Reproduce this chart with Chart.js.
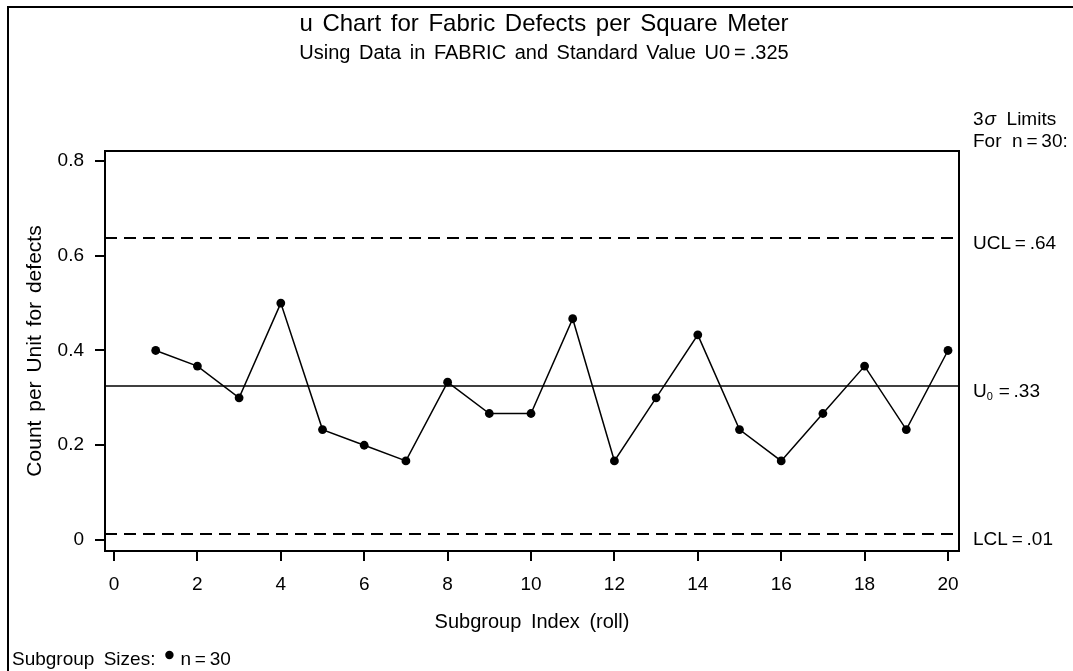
<!DOCTYPE html>
<html><head><meta charset="utf-8">
<style>html,body{margin:0;padding:0;background:#fff}#wrap{width:1073px;height:671px;position:relative}canvas{display:block}</style>
<script src="https://cdn.jsdelivr.net/npm/chart.js@4/dist/chart.umd.min.js"></script>
</head><body><div id="wrap"><canvas id="c" width="1073" height="671"></canvas></div>
<script>
// ---- data ----
const subgroups = [1,2,3,4,5,6,7,8,9,10,11,12,13,14,15,16,17,18,19,20];
const defectsPerUnit = [0.400,0.367,0.300,0.500,0.233,0.200,0.167,0.333,0.267,0.267,0.467,0.167,0.300,0.433,0.233,0.167,0.267,0.367,0.233,0.400];
const centerLine = 0.325;
const upperLimit = 0.6373;
const lowerLimit = 0.0127;
const xTicks = [0,2,4,6,8,10,12,14,16,18,20];
const yTicks = [0,0.2,0.4,0.6,0.8];
const xRange = [-0.216, 20.264];
const yRange = [-0.0232, 0.821];
const titleText = 'u Chart for Fabric Defects per Square Meter';
const subtitleText = 'Using Data in FABRIC and Standard Value U0\u2009=\u2009.325';
const xTitle = 'Subgroup Index (roll)';
const yTitle = 'Count per Unit for defects';

const FONT = '"Liberation Sans", Arial, Helvetica, sans-serif';
const f = (s, style) => (style ? style + ' ' : '') + s + 'px ' + FONT;

const points = subgroups.map((x, i) => ({x, y: defectsPerUnit[i]}));
const hline = v => [{x: xRange[0], y: v}, {x: xRange[1], y: v}];

function txt(ctx, s, x, y, ws) {
  ctx.wordSpacing = (ws || 0) + 'px';
  ctx.fillText(s, x, y);
  ctx.wordSpacing = '0px';
}

const decor = {
  id: 'decor',
  afterDraw(chart) {
    const ctx = chart.ctx, a = chart.chartArea, ys = chart.scales.y;
    ctx.save();
    // outer page frame (top and left)
    ctx.strokeStyle = '#000'; ctx.lineWidth = 2;
    ctx.beginPath(); ctx.moveTo(8, 671); ctx.lineTo(8, 7); ctx.lineTo(1073, 7); ctx.stroke();
    // plot frame
    ctx.lineWidth = 2;
    ctx.strokeRect(a.left, a.top, a.right - a.left, a.bottom - a.top);
    ctx.fillStyle = '#000';
    // titles
    ctx.textAlign = 'center'; ctx.textBaseline = 'alphabetic';
    ctx.font = f(24); txt(ctx, titleText, 544, 31, 3);
    ctx.font = f(20); txt(ctx, subtitleText, 544, 59, 3);
    // axis titles
    ctx.font = f(20);
    txt(ctx, xTitle, (a.left + a.right) / 2, 628, 4);
    ctx.save(); ctx.translate(41, (a.top + a.bottom) / 2); ctx.rotate(-Math.PI / 2);
    ctx.font = f(21); txt(ctx, yTitle, 0, 0, 3); ctx.restore();
    // right side labels
    ctx.textAlign = 'left';
    const lx = 973;
    ctx.font = f(19); ctx.fillText('3', lx, 125);
    let w = ctx.measureText('3').width;
    ctx.font = f(19, 'italic'); ctx.fillText('\u03c3', lx + w + 1, 125);
    w += ctx.measureText('\u03c3').width + 1;
    ctx.font = f(19); ctx.fillText('  Limits', lx + w, 125);
    ctx.fillText('For  n\u2009=\u200930:', lx, 147);
    ctx.fillText('UCL\u2009=\u2009.64', lx, ys.getPixelForValue(upperLimit) + 11);
    const cy = ys.getPixelForValue(centerLine) + 11;
    ctx.fillText('U', lx, cy);
    let uw = ctx.measureText('U').width;
    ctx.font = f(11); ctx.fillText('0', lx + uw, cy + 3);
    uw += ctx.measureText('0').width + 2;
    ctx.font = f(19); ctx.fillText('\u2009=\u2009.33', lx + uw, cy);
    ctx.fillText('LCL\u2009=\u2009.01', lx, ys.getPixelForValue(lowerLimit) + 11);
    // legend
    ctx.font = f(19);
    const lead = 'Subgroup Sizes:';
    ctx.wordSpacing = '4px';
    const lw = ctx.measureText(lead).width;
    ctx.fillText(lead, 12, 665);
    ctx.wordSpacing = '0px';
    const dx = 12 + lw + 14;
    ctx.beginPath(); ctx.arc(dx, 655, 4.2, 0, Math.PI * 2); ctx.fill();
    ctx.fillText('n\u2009=\u200930', dx + 11, 665);
    ctx.restore();
  }
};

const axisCommon = {
  grid: {drawOnChartArea: false, drawTicks: true, tickLength: 10, color: '#000', lineWidth: 2},
  border: {display: true, color: '#000', width: 2},
};

new Chart(document.getElementById('c'), {
  type: 'scatter',
  data: {
    datasets: [
      {data: points, showLine: true, borderColor: '#000', borderWidth: 1.5, pointRadius: 4.4,
       pointBackgroundColor: '#000', pointBorderWidth: 0, pointHoverRadius: 4.4},
      {data: hline(upperLimit), showLine: true, borderColor: '#000', borderWidth: 2, borderDash: [12, 7], pointRadius: 0},
      {data: hline(centerLine), showLine: true, borderColor: '#000', borderWidth: 1.5, pointRadius: 0},
      {data: hline(lowerLimit), showLine: true, borderColor: '#000', borderWidth: 2, borderDash: [12, 7], pointRadius: 0}
    ]
  },
  options: {
    responsive: false, animation: false, devicePixelRatio: 1,
    layout: {padding: {top: 151, right: 114, bottom: 0, left: 0}, autoPadding: false},
    plugins: {legend: {display: false}, tooltip: {enabled: false}, title: {display: false}},
    scales: {
      x: Object.assign({}, axisCommon, {
        type: 'linear', min: xRange[0], max: xRange[1],
        afterBuildTicks: s => { s.ticks = xTicks.map(v => ({value: v})); },
        afterFit: s => { s.height = 120; },
        ticks: {color: '#000', font: {family: FONT, size: 19}, padding: 12, maxRotation: 0, autoSkip: false,
                callback: v => String(v)}
      }),
      y: Object.assign({}, axisCommon, {
        type: 'linear', min: yRange[0], max: yRange[1],
        afterBuildTicks: s => { s.ticks = yTicks.map(v => ({value: v})); },
        afterFit: s => { s.width = 105; },
        ticks: {color: '#000', font: {family: FONT, size: 19}, padding: 11, autoSkip: false,
                callback: v => (v === 0 ? '0' : v.toFixed(1))}
      })
    }
  },
  plugins: [decor]
});
</script></body></html>
